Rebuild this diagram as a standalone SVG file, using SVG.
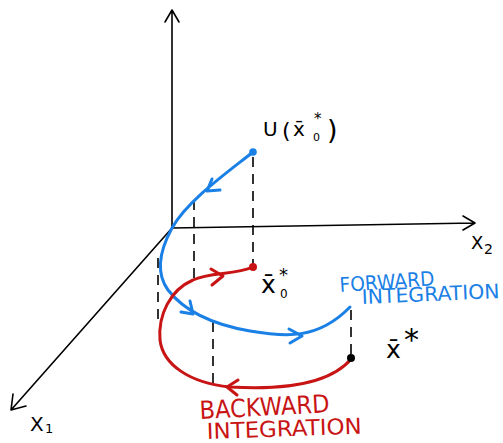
<svg xmlns="http://www.w3.org/2000/svg" width="503" height="443" viewBox="0 0 503 443">
<style>
.ax{fill:none;stroke:#000;stroke-width:1.6;stroke-linecap:round;stroke-linejoin:round}
.ds{fill:none;stroke:#000;stroke-width:1.6;stroke-dasharray:10 7}
.bl{fill:none;stroke:#1a80e6;stroke-width:3;stroke-linecap:round;stroke-linejoin:round}
.rd{fill:none;stroke:#c81414;stroke-width:3;stroke-linecap:round;stroke-linejoin:round}
.t{font-family:"DejaVu Sans","Liberation Sans",sans-serif;fill:#000}
.tb{font-family:"DejaVu Sans","Liberation Sans",sans-serif;fill:#1a80e6}
.tr{font-family:"DejaVu Sans","Liberation Sans",sans-serif;fill:#c81414}
</style>
<rect width="503" height="443" fill="#fff"/>
<g id="axes">
<path class="ax" d="M172,228 L172,10 M165,22 L172,10 L179,22"/>
<path class="ax" d="M172,228 L475,223 M463,216 L475,223 L463,230"/>
<path class="ax" d="M172,228 L11,410 M13,394 L11,410 L26,406"/>
<text class="t" font-size="20"><tspan x="30" y="431">X</tspan><tspan x="45" y="433" font-size="13">1</tspan></text>
<text class="t" font-size="18"><tspan x="471" y="249">X</tspan><tspan x="484" y="254" font-size="14">2</tspan></text>
</g>
<g id="connectors">
<path class="ds" d="M253,157 L253,268"/>
<path class="ds" d="M194,200 L194,282"/>
<path class="ds" d="M158,258 L158,322"/>
<path class="ds" d="M213,322 L213,388"/>
<path class="ds" d="M351,310 L351,358"/>
<path id="forward" class="bl" d="M253,152 C228,172 188,200 172,228 C160,250 155,272 168,290 C185,312 215,325 250,331 C285,337 318,340 350,307"/>
<path class="bl" d="M212,179 L207,191 L220,190"/>
<path class="bl" d="M181,312 L193,314 L190,301"/>
<path class="bl" d="M289,329 L302,336 L290,343"/>
<path id="backward" class="rd" d="M253,267 C235,275 210,272 193,280 C170,290 158,315 160,340 C163,365 190,383 230,387 C280,390 330,385 352,358"/>
<path class="rd" d="M211,269 L223,276 L212,285"/>
<path class="rd" d="M238,380 L227,387 L237,395"/>
</g>
<g id="u-x0">
<circle cx="253" cy="152" r="3.8" fill="#1a80e6"/>
<text class="t" font-size="20"><tspan x="263" y="136">U</tspan><tspan x="282" y="138" font-size="22">(</tspan><tspan x="293" y="136" font-size="20">x̄</tspan><tspan x="314" y="124" font-size="15">*</tspan><tspan x="313" y="141" font-size="11">0</tspan><tspan x="327" y="139" font-size="27">)</tspan></text>
</g>
<g id="x0">
<circle cx="253" cy="267" r="4" fill="#c81414"/>
<text class="t" font-size="25"><tspan x="261" y="293">x̄</tspan><tspan x="279" y="281" font-size="18">*</tspan><tspan x="280" y="298" font-size="12">0</tspan></text>
</g>
<g id="xstar">
<circle cx="351" cy="358" r="4" fill="#000"/>
<text class="t" font-size="25"><tspan x="386" y="358">x̄</tspan><tspan x="404" y="350" font-size="30">*</tspan></text>
</g>
<g id="forward-label">
<text class="tb" x="340" y="292" font-size="20" textLength="95" lengthAdjust="spacingAndGlyphs" transform="rotate(-4 340 292)">FORWARD</text>
<text class="tb" x="362" y="304" font-size="20" textLength="138" lengthAdjust="spacingAndGlyphs" transform="rotate(-2.5 362 304)">INTEGRATION</text>
</g>
<g id="backward-label">
<text class="tr" x="200" y="419" font-size="25" textLength="130" lengthAdjust="spacingAndGlyphs" transform="rotate(-3 200 419)">BACKWARD</text>
<text class="tr" x="207" y="439" font-size="22" textLength="155" lengthAdjust="spacingAndGlyphs" transform="rotate(-2 207 439)">INTEGRATION</text>
</g>
</svg>
